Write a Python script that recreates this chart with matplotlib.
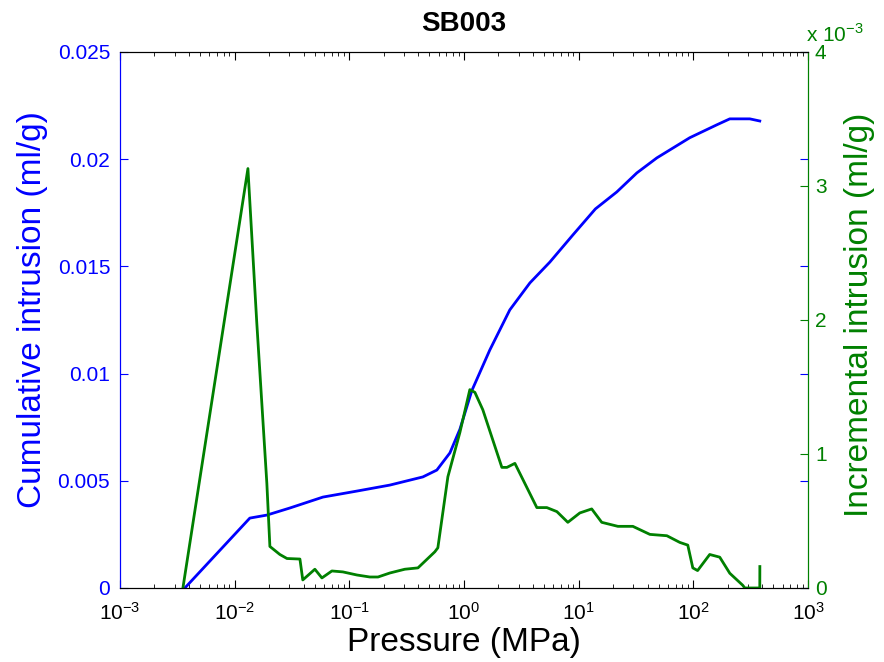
import numpy as np
import matplotlib
matplotlib.use('Agg')
import matplotlib.pyplot as plt
from matplotlib.ticker import LogLocator, NullFormatter

plt.rcParams['font.family'] = ['Liberation Sans', 'DejaVu Sans']

# cumulative intrusion (ml/g) vs pressure (MPa)
p_cum = [0.00368, 0.01357, 0.0191, 0.0303, 0.0589, 0.1165, 0.226, 0.438, 0.58, 0.754,
         0.921, 1.17, 1.68, 2.51, 3.76, 5.61, 8.89, 14.0, 21.5, 32.2,
         48.1, 93.1, 160.0, 208.0, 311.0, 380.0]
cum = [0.0, 0.00326, 0.0034, 0.00373, 0.00424, 0.00452, 0.0048, 0.00518, 0.0055, 0.0063,
       0.0074, 0.0092, 0.0111, 0.01297, 0.01423, 0.0152, 0.01646, 0.01768, 0.01847, 0.01936,
       0.02006, 0.0210, 0.0216, 0.02188, 0.02188, 0.02178]

# incremental intrusion (ml/g) vs pressure (MPa)
p_inc = [0.00354, 0.01306, 0.0156, 0.0191, 0.0203, 0.0248, 0.0286, 0.0371, 0.0393, 0.0501,
         0.0577, 0.0705, 0.0879, 0.1165, 0.151, 0.178, 0.226, 0.305, 0.397, 0.557,
         0.592, 0.724, 0.921, 1.125, 1.245, 1.46, 2.14, 2.37, 2.78, 4.32,
         5.28, 6.46, 8.05, 10.24, 13.0, 15.9, 22.0, 29.7, 41.8, 58.8,
         76.3, 89.5, 99.0, 109.0, 139.0, 170.0, 208.0, 270.0, 281.0, 380.0,
         380.5]
inc = [0.0, 3.13e-3, 1.98e-3, 0.78e-3, 0.31e-3, 0.25e-3, 0.22e-3, 0.216e-3, 0.06e-3, 0.14e-3,
       0.075e-3, 0.127e-3, 0.12e-3, 0.097e-3, 0.082e-3, 0.082e-3, 0.112e-3, 0.14e-3, 0.15e-3, 0.27e-3,
       0.30e-3, 0.83e-3, 1.16e-3, 1.48e-3, 1.46e-3, 1.33e-3, 0.9e-3, 0.9e-3, 0.93e-3, 0.6e-3,
       0.6e-3, 0.57e-3, 0.49e-3, 0.56e-3, 0.59e-3, 0.49e-3, 0.46e-3, 0.46e-3, 0.40e-3, 0.39e-3,
       0.34e-3, 0.32e-3, 0.15e-3, 0.13e-3, 0.25e-3, 0.23e-3, 0.11e-3, 0.02e-3, 0.0, 0.0,
       0.16e-3]

blue = '#0000ff'
green = '#008000'

fig = plt.figure(figsize=(8.84, 6.62), dpi=100)
ax1 = fig.add_axes([0.1357, 0.1118, 0.7783, 0.8097])
ax2 = ax1.twinx()

ax1.plot(p_cum, cum, color=blue, lw=2)
ax2.plot(p_inc, inc, color=green, lw=2)

ax1.set_xscale('log')
ax1.set_xlim(1e-3, 1e3)
ax1.set_ylim(0, 0.025)
ax1.set_yticks([0, 0.005, 0.01, 0.015, 0.02, 0.025])
ax1.set_yticklabels(['0', '0.005', '0.01', '0.015', '0.02', '0.025'])
ax2.set_ylim(0, 4e-3)
ax2.set_yticks([0, 1e-3, 2e-3, 3e-3, 4e-3])
ax2.set_yticklabels(['0', '1', '2', '3', '4'])

ax1.xaxis.set_major_locator(LogLocator(base=10, numticks=10))
ax1.xaxis.set_minor_locator(LogLocator(base=10, subs=np.arange(2, 10), numticks=10))
ax1.xaxis.set_minor_formatter(NullFormatter())

ax1.tick_params(axis='x', which='both', direction='in', top=True, colors='black', labelsize=15, pad=10)
ax1.tick_params(axis='x', which='major', length=6)
ax1.tick_params(axis='x', which='minor', length=3)
ax1.tick_params(axis='y', direction='in', right=True, length=6, colors=blue, labelsize=15, pad=7)
ax2.tick_params(axis='y', direction='in', length=6, colors=green, labelsize=15, pad=5)

for ax in (ax1, ax2):
    ax.spines['left'].set_color(blue)
    ax.spines['right'].set_color(green)
    ax.spines['top'].set_color('black')
    ax.spines['bottom'].set_color('black')

ax1.set_xlabel('Pressure (MPa)', fontsize=24)
ax1.set_ylabel('Cumulative intrusion (ml/g)', fontsize=24, color=blue)
ax2.set_ylabel('Incremental intrusion (ml/g)', fontsize=24, color=green)
ax1.xaxis.set_label_coords(0.5, -0.073)
ax1.yaxis.set_label_coords(-0.105, 0.52)
ax2.yaxis.set_label_coords(1.052, 0.51)
ax1.set_title('SB003', fontsize=20, fontweight='bold', pad=15)
fig.text(0.912, 0.9366, r'x 10$^{\mathdefault{-3}}$', color=green, fontsize=15,
         ha='left', va='baseline')

fig.savefig('out.png', dpi=100)
